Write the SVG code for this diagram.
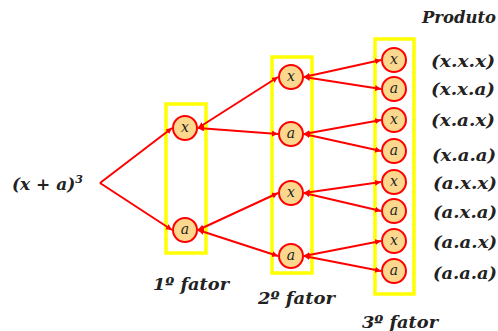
<svg xmlns="http://www.w3.org/2000/svg" width="498" height="331" viewBox="0 0 498 331">
<style>
.box{fill:none;stroke:#FFFF00;stroke-width:3.5}
.nd{fill:#FBD88E;stroke:#FF0000;stroke-width:2}
.nl{font-family:"DejaVu Serif","Liberation Serif",serif;font-style:italic;font-size:14px;fill:#222;text-anchor:middle}
.lb{font-family:"DejaVu Serif","Liberation Serif",serif;font-style:italic;font-weight:bold;font-size:17px;fill:#222}
.cn line{stroke:#FF0000;stroke-width:2}
</style>
<defs>
<marker id="ah" markerUnits="userSpaceOnUse" markerWidth="7" markerHeight="7" refX="6" refY="3" orient="auto-start-reverse">
<path d="M0,0 L6,3 L0,6 z" fill="#FF0000"/>
</marker>
</defs>
<rect width="498" height="331" fill="#fff"/>
<g id="boxes">
<rect class="box" x="166" y="104" width="40" height="149"/>
<rect class="box" x="272" y="57" width="40" height="216"/>
<rect class="box" x="375" y="39" width="39" height="255"/>
</g>
<g class="cn" id="connectors">
<line x1="100" y1="183" x2="172" y2="128" marker-end="url(#ah)"/>
<line x1="100" y1="183" x2="172" y2="230" marker-end="url(#ah)"/>
<line x1="198" y1="128" x2="278" y2="77" marker-start="url(#ah)" marker-end="url(#ah)"/>
<line x1="198" y1="128" x2="278" y2="134" marker-start="url(#ah)" marker-end="url(#ah)"/>
<line x1="198" y1="230" x2="278" y2="193" marker-start="url(#ah)" marker-end="url(#ah)"/>
<line x1="198" y1="230" x2="278" y2="256" marker-start="url(#ah)" marker-end="url(#ah)"/>
<line x1="304" y1="77" x2="381" y2="60" marker-start="url(#ah)" marker-end="url(#ah)"/>
<line x1="304" y1="77" x2="381" y2="89" marker-start="url(#ah)" marker-end="url(#ah)"/>
<line x1="304" y1="134" x2="381" y2="120" marker-start="url(#ah)" marker-end="url(#ah)"/>
<line x1="304" y1="134" x2="381" y2="151" marker-start="url(#ah)" marker-end="url(#ah)"/>
<line x1="304" y1="193" x2="381" y2="182" marker-start="url(#ah)" marker-end="url(#ah)"/>
<line x1="304" y1="193" x2="381" y2="211" marker-start="url(#ah)" marker-end="url(#ah)"/>
<line x1="304" y1="256" x2="381" y2="241" marker-start="url(#ah)" marker-end="url(#ah)"/>
<line x1="304" y1="256" x2="381" y2="271" marker-start="url(#ah)" marker-end="url(#ah)"/>
</g>
<g id="n1x"><circle class="nd" cx="185" cy="128" r="12"/><text class="nl" x="185" y="132">x</text></g>
<g id="n1a"><circle class="nd" cx="185" cy="230" r="12"/><text class="nl" x="185" y="234">a</text></g>
<g id="n2x1"><circle class="nd" cx="291" cy="77" r="12"/><text class="nl" x="291" y="81">x</text></g>
<g id="n2a1"><circle class="nd" cx="291" cy="134" r="12"/><text class="nl" x="291" y="138">a</text></g>
<g id="n2x2"><circle class="nd" cx="291" cy="193" r="12"/><text class="nl" x="291" y="197">x</text></g>
<g id="n2a2"><circle class="nd" cx="291" cy="256" r="12"/><text class="nl" x="291" y="260">a</text></g>
<g id="n3_1"><circle class="nd" cx="394" cy="60" r="12"/><text class="nl" x="394" y="64">x</text></g>
<g id="n3_2"><circle class="nd" cx="394" cy="89" r="12"/><text class="nl" x="394" y="93">a</text></g>
<g id="n3_3"><circle class="nd" cx="394" cy="120" r="12"/><text class="nl" x="394" y="124">x</text></g>
<g id="n3_4"><circle class="nd" cx="394" cy="151" r="12"/><text class="nl" x="394" y="155">a</text></g>
<g id="n3_5"><circle class="nd" cx="394" cy="182" r="12"/><text class="nl" x="394" y="186">x</text></g>
<g id="n3_6"><circle class="nd" cx="394" cy="211" r="12"/><text class="nl" x="394" y="215">a</text></g>
<g id="n3_7"><circle class="nd" cx="394" cy="241" r="12"/><text class="nl" x="394" y="245">x</text></g>
<g id="n3_8"><circle class="nd" cx="394" cy="271" r="12"/><text class="nl" x="394" y="275">a</text></g>
<g id="labels">
<text class="lb" x="12" y="190">(x + a)<tspan font-size="11" dy="-7">3</tspan></text>
<text class="lb" x="422" y="23" textLength="74" lengthAdjust="spacingAndGlyphs">Produto</text>
<text class="lb" x="431" y="67" textLength="64" lengthAdjust="spacingAndGlyphs">(x.x.x)</text>
<text class="lb" x="431" y="95" textLength="64" lengthAdjust="spacingAndGlyphs">(x.x.a)</text>
<text class="lb" x="431" y="126" textLength="64" lengthAdjust="spacingAndGlyphs">(x.a.x)</text>
<text class="lb" x="432" y="161" textLength="64" lengthAdjust="spacingAndGlyphs">(x.a.a)</text>
<text class="lb" x="433" y="189" textLength="64" lengthAdjust="spacingAndGlyphs">(a.x.x)</text>
<text class="lb" x="433" y="218" textLength="64" lengthAdjust="spacingAndGlyphs">(a.x.a)</text>
<text class="lb" x="433" y="248" textLength="64" lengthAdjust="spacingAndGlyphs">(a.a.x)</text>
<text class="lb" x="433" y="279" textLength="64" lengthAdjust="spacingAndGlyphs">(a.a.a)</text>
<text class="lb" x="153" y="290" textLength="76" lengthAdjust="spacingAndGlyphs">1º fator</text>
<text class="lb" x="258" y="304" textLength="77" lengthAdjust="spacingAndGlyphs">2º fator</text>
<text class="lb" x="362" y="328" textLength="76" lengthAdjust="spacingAndGlyphs">3º fator</text>
</g>
</svg>
